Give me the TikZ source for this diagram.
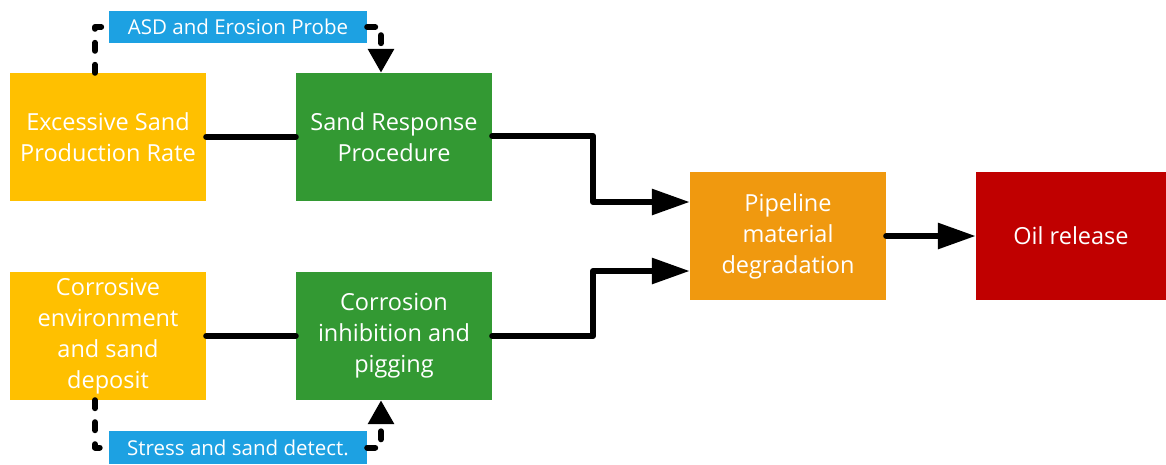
\documentclass[tikz,border=0pt]{standalone}
\usepackage{fontspec}
\setmainfont{Open Sans}
\usetikzlibrary{arrows.meta}
\definecolor{sandyellow}{HTML}{FFC000}
\definecolor{barriergreen}{HTML}{339933}
\definecolor{degradorange}{HTML}{F0990F}
\definecolor{releasered}{HTML}{C00000}
\definecolor{probeblue}{HTML}{1DA1E2}
\tikzset{
  box/.style={rectangle, inner sep=0pt, minimum width=196pt, minimum height=128pt,
    text=white, align=center, font=\fontsize{23.5}{31}\selectfont},
  tag/.style={rectangle, fill=probeblue, inner sep=0pt, minimum width=258pt,
    minimum height=32pt, text=white, font=\fontsize{20.5}{24}\selectfont},
  conn/.style={line width=6pt, line cap=round, line join=round},
  flow/.style={conn, -{Triangle[length=38pt, width=25pt]}},
  dsh/.style={line width=6pt, line cap=round, line join=round, dash pattern=on 8pt off 14pt},
  dsharrow/.style={dsh, -{Triangle[length=24pt, width=25pt]}},
}
\begin{document}
\begin{tikzpicture}[x=1pt, y=-1pt]
  \useasboundingbox (0,0) rectangle (1166,464);
  % causes, barriers and consequences
  \node[box, fill=sandyellow] (esp) at (108,137) {Excessive Sand\\Production Rate};
  \node[box, fill=barriergreen] (srp) at (394,137) {Sand Response\\Procedure};
  \node[box, fill=sandyellow] (cen) at (108,336) {Corrosive\\environment\\and sand\\deposit};
  \node[box, fill=barriergreen] (cip) at (394,336) {Corrosion\\inhibition and\\pigging};
  \node[box, fill=degradorange] (pmd) at (788,236) {Pipeline\\material\\degradation};
  \node[box, fill=releasered, minimum width=190pt] (oil) at (1071,236) {Oil release};
  % detection tags
  \node[tag] (asd) at (238,27) {ASD and Erosion Probe};
  \node[tag, minimum height=33pt] (ssd) at (238,447.5) {Stress and sand detect.};

  % solid connectors
  \draw[conn] (esp.east) -- (srp.west);
  \draw[conn] (cen.east) -- (cip.west);
  \draw[flow] (srp.east |- 0,136) -- (593,136) |- ([yshift=34pt]pmd.west);
  \draw[flow] (cip.east) -- (593,336) |- ([yshift=-35pt]pmd.west);
  \draw[flow] (pmd.east) -- (oil.west);

  % dashed detection loops
  \draw[dsh] ([xshift=-13pt]esp.north) |- (asd.west);
  \draw[dsharrow] (asd.east) -| ([xshift=-13pt]srp.north);
  \draw[dsh] ([xshift=-13pt]cen.south) |- (ssd.west);
  \draw[dsharrow] (ssd.east) -| ([xshift=-13pt]cip.south);
\end{tikzpicture}
\end{document}
